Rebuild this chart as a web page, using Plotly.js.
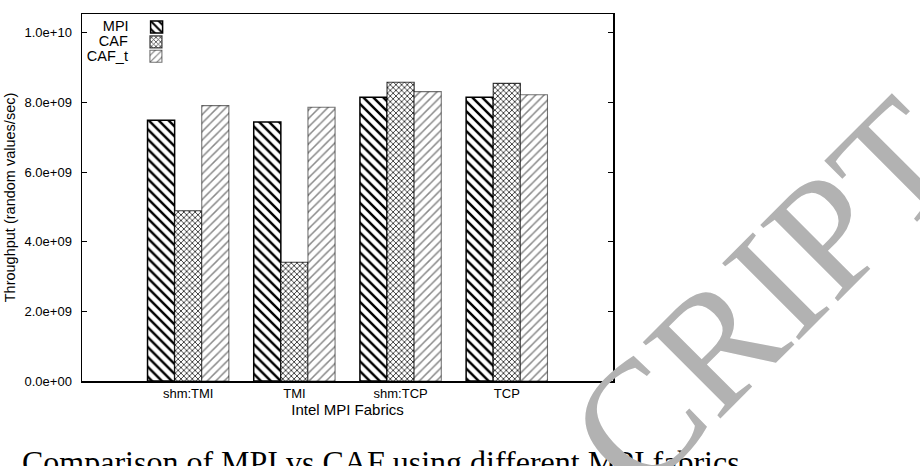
<!DOCTYPE html>
<html>
<head>
<meta charset="utf-8">
<script src="https://cdn.plot.ly/plotly-3.0.1.min.js"></script>
<style>
html,body{margin:0;padding:0;background:#fff;}
#chart{width:920px;height:466px;}
</style>
</head>
<body>
<div id="chart"></div>
<script>
// ---- data ----
const categories = ["shm:TMI", "TMI", "shm:TCP", "TCP"];
const seriesNames = ["MPI", "CAF", "CAF_t"];
const mpiValues  = [7.49e9, 7.44e9, 8.15e9, 8.15e9];
const cafValues  = [4.89e9, 3.41e9, 8.58e9, 8.55e9];
const caftValues = [7.91e9, 7.86e9, 8.31e9, 8.22e9];
const yTickVals  = [0, 2e9, 4e9, 6e9, 8e9, 1e10];
const yTickText  = ["0.0e+00", "2.0e+09", "4.0e+09", "6.0e+09", "8.0e+09", "1.0e+10"];
const xTitle = "Intel MPI Fabrics";
const yTitle = "Throughput (random values/sec)";
const caption = "Comparison of MPI vs CAF using different MPI fabrics";
const watermark = "CRIPT";

const sans = "Liberation Sans, Arial, Helvetica, sans-serif";
const serif = "Liberation Serif, Times New Roman, serif";

const traces = [
  {
    type: "bar", name: "", x: categories, y: mpiValues, legend: "legend",
    marker: {
      color: "#ffffff",
      pattern: {shape: "\\", fgcolor: "#000000", bgcolor: "#ffffff", size: 7, solidity: 0.35},
      line: {color: "#000000", width: 1.5}
    },
    hovertemplate: seriesNames[0] + " %{x}: %{y}<extra></extra>"
  },
  {
    type: "bar", name: "", x: categories, y: cafValues, legend: "legend2",
    marker: {
      color: "#ffffff",
      pattern: {shape: "x", fgcolor: "#333333", bgcolor: "#ffffff", size: 4, solidity: 0.4},
      line: {color: "rgba(0,0,0,0.75)", width: 1.2}
    },
    hovertemplate: seriesNames[1] + " %{x}: %{y}<extra></extra>"
  },
  {
    type: "bar", name: "", x: categories, y: caftValues, legend: "legend3",
    marker: {
      color: "#ffffff",
      pattern: {shape: "/", fgcolor: "#8a8a8a", bgcolor: "#ffffff", size: 6, solidity: 0.25},
      line: {color: "rgba(0,0,0,0.55)", width: 1.1}
    },
    hovertemplate: seriesNames[2] + " %{x}: %{y}<extra></extra>"
  }
];

function legendAt(yPaper, title) {
  return {
    x: 0.188, xanchor: "right", y: yPaper, yanchor: "middle",
    bgcolor: "rgba(0,0,0,0)", borderwidth: 0,
    title: {text: title, side: "left", font: {family: sans, size: 14.5, color: "#000"}},
    font: {family: sans, size: 10, color: "#000"},
    itemwidth: 30
  };
}

const layout = {
  width: 920, height: 466,
  margin: {l: 82, r: 307, t: 12, b: 85},
  paper_bgcolor: "#ffffff", plot_bgcolor: "#ffffff",
  barmode: "group", bargap: 0.234, bargroupgap: 0,
  font: {family: sans, size: 13, color: "#000"},
  showlegend: true,
  legend: legendAt(0.9648, seriesNames[0]),
  legend2: legendAt(0.924, seriesNames[1]),
  legend3: legendAt(0.8848, seriesNames[2]),
  xaxis: {
    type: "category", range: [-1, 4],
    showline: true, linecolor: "#000", linewidth: 1.5, mirror: true,
    ticks: "", showgrid: false, zeroline: false,
    tickfont: {family: sans, size: 13, color: "#000"},
    title: {text: xTitle, font: {family: sans, size: 15, color: "#000"}, standoff: 4}
  },
  yaxis: {
    range: [0, 1.054e10],
    tickvals: yTickVals, ticktext: yTickText,
    showline: true, linecolor: "#000", linewidth: 1.5, mirror: "ticks",
    ticks: "inside", ticklen: 5, tickwidth: 1, tickcolor: "#000",
    showgrid: false, zeroline: false,
    ticklabelstandoff: 6,
    tickfont: {family: sans, size: 13, color: "#000"},
    title: {text: yTitle, font: {family: sans, size: 14.5, color: "#000"}, standoff: 5}
  },
  annotations: [
    {
      text: caption, xref: "paper", yref: "paper",
      x: -0.1168, xanchor: "left", y: -0.166, yanchor: "top",
      showarrow: false, font: {family: serif, size: 32, color: "#000"}
    },
    {
      text: watermark, xref: "paper", yref: "paper",
      x: 1.286, y: 0.233, xanchor: "center", yanchor: "middle",
      textangle: -45, showarrow: false,
      font: {family: serif, size: 166, color: "#b2b2b2"}
    }
  ]
};

Plotly.newPlot("chart", traces, layout, {displayModeBar: false, staticPlot: true});
</script>
</body>
</html>
